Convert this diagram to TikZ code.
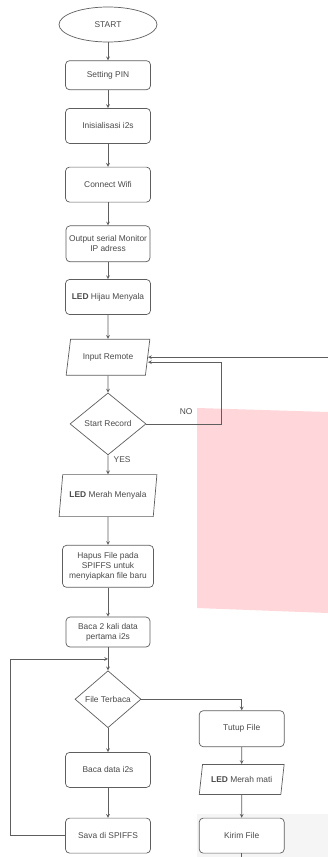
\documentclass[tikz,border=0pt]{standalone}
\usepackage{fontspec}
\setmainfont{Liberation Sans}
\usepackage{tikz}
\usetikzlibrary{positioning,shapes.geometric,calc}
\definecolor{linegray}{HTML}{5E5E5E}
\definecolor{textgray}{HTML}{4A4A4A}
\definecolor{pinkpatch}{RGB}{255,214,218}
\definecolor{graypatch}{HTML}{F5F5F5}

\begin{document}
\begin{tikzpicture}[x=1pt, y=1pt, >=stealth,
line width=0.7pt, draw=linegray,
terminal/.style = {draw=linegray, ellipse, fill=white, minimum width=98pt, minimum height=35pt},
boxnode/.style={rectangle, rounded corners=4pt, draw=linegray, fill=white, minimum width=85pt, minimum height=35pt, align=center, inner sep=1pt},
ionode/.style={trapezium, trapezium left angle=72, trapezium right angle=108, trapezium stretches=true, draw=linegray, fill=white, minimum width=84pt, minimum height=36pt, inner sep=1pt},
decision/.style={diamond, draw=linegray, fill=white, aspect=1.2, inner sep=0pt}]
\tikzstyle{every node}=[font=\fontsize{8.4}{10}\selectfont, text=textgray]
\useasboundingbox (0,0) rectangle (328,-857);
% patches behind the chart
\fill[pinkpatch] (197,-408) -- (328,-412) -- (328,-613) -- (197,-608) -- cycle;
\fill[graypatch] (197,-814) rectangle (328,-857);

\node[terminal] (1) at (108,-24.5) {START};
\node[boxnode, minimum height=29pt] (2) [below=18pt of 1] {Setting PIN};
\node[boxnode] (3) [below=18pt of 2] {Inisialisasi i2s};
\node[boxnode] (4) [below=23pt of 3] {Connect Wifi};
\node[boxnode, minimum width=84pt, minimum height=36pt] (5) [below=23pt of 4] {Output serial Monitor\\IP adress};
\node[boxnode] (6) [below=17pt of 5] {\textbf{LED} Hijau Menyala};
\node[ionode] (7) [below=24pt of 6] {Input Remote};
\node[decision, minimum width=76pt, minimum height=62pt] (8) [below=17pt of 7] {Start Record};
\node[ionode, minimum width=98pt, minimum height=42pt] (9) [below=19pt of 8] {\textbf{LED} Merah Menyala};
\node[boxnode, minimum width=91pt, minimum height=42pt] (10) [below=28pt of 9] {Hapus File pada\\SPIFFS untuk\\menyiapkan file baru};
\node[boxnode, minimum width=84pt, minimum height=30pt] (11) [below=29pt of 10] {Baca 2 kali data\\pertama i2s};
\node[decision, minimum width=66pt, minimum height=57pt] (12) [below=23pt of 11] {File Terbaca};
\node[boxnode] (13) [below=24pt of 12] {Baca data i2s};
\node[boxnode] (14) [below=30pt of 13] {Sava di SPIFFS};
\node[boxnode] (17) [right=48pt of 14] {Kirim File};
\node[ionode, minimum width=85pt, minimum height=30pt] (16) [above=23pt of 17] {\textbf{LED} Merah mati};
\node[boxnode, minimum height=36pt] (15) [above=17pt of 16] {Tutup File};

\coordinate (rr) at (328,0);
\coordinate (bot) at (0,-857);
\coordinate (in) at (7.east -| rr);
\coordinate (join) at ($(11.south)!0.5!(12.north)$);

\draw[->] (1) -- (2);
\draw[->] (2) -- (3);
\draw[->] (3) -- (4);
\draw[->] (4) -- (5);
\draw[->] (5) -- (6);
\draw[->] (6) -- (7);
\draw[->] (7) -- (8);
\draw[->] (8) -- node[pos=0.25, right=2pt] {YES} (9);
\draw[->] (8.east) -- node[pos=0.53, above=6pt] {NO} ++(75,0) |- ([yshift=-5pt]7.east);
\draw[->] (in) -- (7.east);
\draw[->] (9) -- (10);
\draw[->] (10) -- (11);
\draw[->] (11) -- (12);
\draw[->] (12) -- (13);
\draw[->] (13) -- (14);
\draw[->] (14.west) -- ++(-55,0) |- (join);
\draw[->] (12.east) -| (15.north);
\draw[->] (15) -- (16);
\draw[->] (16) -- (17);
\draw (17.south) -- (17.south |- bot);
\end{tikzpicture}
\end{document}
